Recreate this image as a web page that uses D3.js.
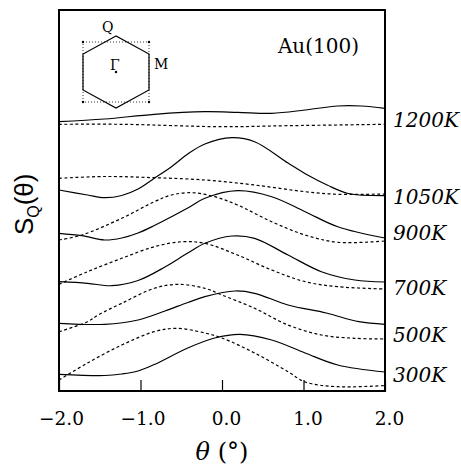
<!DOCTYPE html>
<html>
<head>
<meta charset="utf-8">
<script src="https://cdn.jsdelivr.net/npm/d3@7"></script>
<style>
  body { margin: 0; background: #fff; }
  svg { display: block; }
  .frame { fill: none; stroke: #000; stroke-width: 2; }
  .solid { fill: none; stroke: #000; stroke-width: 1.2; }
  .dashed { fill: none; stroke: #000; stroke-width: 1.2; stroke-dasharray: 3 2.5; }
  .tick-label { font-family: 'DejaVu Serif', serif; font-size: 18.5px; }
  .temp-label { font-family: 'DejaVu Serif', serif; font-style: italic; font-size: 20px; }
  .inset-label { font-family: 'DejaVu Serif', serif; font-size: 14px; }
</style>
</head>
<body>
<div id="chart"></div>
<script>
'use strict';

// temperatures, one pair of profiles each (theta in degrees, S_Q in arb. units)
var temps = [ '300K', '500K', '700K', '900K', '1050K', '1200K' ];

var solid300 = [ [-2, 1.67], [-1.44, 1.55], [-1.23, 1.7], [-1.03, 2.0], [-0.83, 2.65], [-0.42, 4.3], [-0.09, 5.3],
  [0.22, 5.67], [0.61, 5.1], [1.02, 3.8], [1.42, 2.6], [2, 1.9] ];
var dashed300 = [ [-2, 1.1], [-1.65, 2.8], [-1.23, 4.6], [-0.83, 5.93], [-0.56, 6.27], [-0.21, 5.8],
  [0, 5.3], [0.4, 3.8], [0.81, 1.93], [1.02, 0.9], [1.42, 0.43], [2, 0.55] ];

var solid500 = [ [-2, 6.77], [-1.44, 6.67], [-1.03, 7.1], [-0.7, 8.0], [-0.42, 8.85], [-0.21, 9.43],
  [0.16, 10.0], [0.4, 9.77], [0.81, 8.6], [1.28, 7.8], [1.68, 6.93], [2, 6.67] ];
var dashed500 = [ [-2, 5.93], [-1.65, 6.93], [-1.52, 7.6], [-1.23, 8.77], [-0.83, 10.27], [-0.54, 10.67],
  [-0.21, 10.27], [0, 9.6], [0.4, 8.27], [0.81, 6.6], [1.22, 5.6], [1.63, 5.27], [2, 5.2] ];

var solid700 = [ [-2, 10.93], [-1.65, 10.77], [-1.35, 10.53], [-1.03, 11.05], [-0.7, 12.4], [-0.42, 13.8],
  [-0.21, 14.77], [0.12, 15.5], [0.4, 15.27], [0.81, 13.6], [1.22, 11.93], [1.63, 11.1], [2, 10.9] ];
var dashed700 = [ [-2, 10.67], [-1.65, 11.93], [-1.23, 13.27], [-0.83, 14.43], [-0.49, 14.93], [-0.21, 14.77],
  [0.19, 13.6], [0.61, 12.1], [1.02, 10.93], [1.42, 10.43], [2, 10.2] ];

var solid900 = [ [-2, 15.77], [-1.72, 15.53], [-1.44, 15.1], [-1.23, 15.3], [-1.03, 15.8], [-0.83, 16.55], [-0.42, 18.3],
  [-0.21, 19.27], [0.19, 20.03], [0.61, 19.43], [1.02, 17.93], [1.42, 16.43], [2, 15.3] ];
var dashed900 = [ [-2, 15.1], [-1.72, 15.6], [-1.23, 17.27], [-0.83, 18.93], [-0.62, 19.6], [-0.37, 19.83],
  [-0.09, 19.43], [0.19, 18.6], [0.61, 16.93], [1.02, 15.6], [1.42, 14.87], [2, 15.0] ];

var solid1050 = [ [-2, 20.1], [-1.65, 19.6], [-1.44, 19.33], [-1.23, 19.55], [-1.03, 20.2], [-0.83, 21.27],
  [-0.62, 22.43], [-0.42, 23.7], [-0.21, 24.7], [0.12, 25.33], [0.4, 24.93], [0.81, 22.8], [1.05, 21.6],
  [1.29, 20.6], [1.55, 19.75], [2, 19.53] ];
var dashed1050 = [ [-2, 21.27], [-1.44, 21.45], [-0.83, 21.33], [-0.21, 21.1], [0.4, 20.6], [1.02, 19.93],
  [1.42, 19.67], [2, 19.7] ];

var solid1200 = [ [-2, 26.93], [-1.44, 27.2], [-0.83, 27.67], [-0.21, 27.93], [0.19, 27.87], [0.61, 27.77],
  [1.02, 28.1], [1.42, 28.5], [1.71, 28.5], [2, 28.27] ];
var dashed1200 = [ [-2, 26.67], [-1.23, 26.67], [0, 26.43], [0.81, 26.53], [2, 26.67] ];

// level (S units) at which each temperature label sits
var labelLevels = [ 0.9, 4.9, 9.6, 15.1, 18.7, 26.4 ];

var xTicks = [ -2, -1, 0, 1, 2 ];
var xTickLabels = [ '\u22122.0', '\u22121.0', '0.0', '1.0', '2.0' ];

var solids = [ solid300, solid500, solid700, solid900, solid1050, solid1200 ];
var dashes = [ dashed300, dashed500, dashed700, dashed900, dashed1050, dashed1200 ];

var baseWidth = 461,
    baseHeight = 467,
    margin = { top: 10, right: 76, bottom: 76, left: 59 };

var width = baseWidth - margin.left - margin.right,
    height = baseHeight - margin.top - margin.bottom;

var x = d3.scaleLinear()
    .domain( [ -2, 2 ] )
    .range( [ 0, width ] );

var y = d3.scaleLinear()
    .domain( [ 0, 38.1 ] )
    .range( [ height, 0 ] );

var svg = d3.select( '#chart' )
  .append( 'svg' )
    .attr( 'width', baseWidth )
    .attr( 'height', baseHeight )
  .append( 'g' )
    .attr( 'transform', 'translate(' + margin.left + ',' + margin.top + ')' );

var line = d3.line()
    .x( function( d ) { return x( d[0] ); } )
    .y( function( d ) { return y( d[1] ); } )
    .curve( d3.curveCatmullRom.alpha( 0.5 ) );

// profiles
for ( var i = 0; i < temps.length; i++ ) {
  svg.append( 'path' )
    .attr( 'class', 'dashed' )
    .attr( 'd', line( dashes[i] ) );
  svg.append( 'path' )
    .attr( 'class', 'solid' )
    .attr( 'd', line( solids[i] ) );

  svg.append( 'text' )
    .attr( 'class', 'temp-label' )
    .attr( 'x', width + 8 )
    .attr( 'y', y( labelLevels[i] ) )
    .text( temps[i] );
}

// x axis: inward ticks, labels below
var xAxis = svg.append( 'g' )
    .attr( 'transform', 'translate(0,' + height + ')' )
    .call( d3.axisBottom( x )
      .tickValues( xTicks )
      .tickSizeInner( -11 )
      .tickSizeOuter( 0 )
      .tickFormat( function( d, i ) { return xTickLabels[i]; } ) );

xAxis.select( '.domain' ).remove();
xAxis.selectAll( 'line' )
    .attr( 'stroke', '#000' )
    .attr( 'stroke-width', 1.2 );
xAxis.selectAll( 'text' )
    .attr( 'class', 'tick-label' )
    .attr( 'fill', '#000' )
    .attr( 'y', 34 )
    .attr( 'dx', function( d ) { return d < 0 ? 2 : 4; } )
    .attr( 'dy', 0 );

// frame
svg.append( 'rect' )
    .attr( 'class', 'frame' )
    .attr( 'width', width )
    .attr( 'height', height );

// axis titles
var xTitle = svg.append( 'text' )
    .attr( 'x', width / 2 )
    .attr( 'y', height + 69 )
    .attr( 'text-anchor', 'middle' )
    .style( 'font-family', "'DejaVu Serif', serif" )
    .style( 'font-size', '24px' );
xTitle.append( 'tspan' ).style( 'font-style', 'italic' ).text( '\u03b8' );
xTitle.append( 'tspan' ).text( ' (\u00b0)' );

var yTitle = svg.append( 'text' )
    .attr( 'transform', 'translate(' + ( -26 ) + ',' + ( height * 0.51 ) + ') rotate(-90)' )
    .attr( 'text-anchor', 'middle' )
    .style( 'font-family', "'Liberation Sans', sans-serif" )
    .style( 'font-size', '26px' );
yTitle.append( 'tspan' ).text( 'S' );
yTitle.append( 'tspan' ).attr( 'dy', 6 ).style( 'font-size', '16px' ).text( 'Q' );
yTitle.append( 'tspan' ).attr( 'dy', -6 ).text( '(\u03b8)' );

// sample label
svg.append( 'text' )
    .attr( 'x', width - 26 )
    .attr( 'y', 43 )
    .attr( 'text-anchor', 'end' )
    .style( 'font-family', "'DejaVu Serif', serif" )
    .style( 'font-size', '20px' )
    .text( 'Au(100)' );

// inset: surface Brillouin zone sketch
var inset = svg.append( 'g' )
    .attr( 'transform', 'translate(57,62)' );
var r = 36, hw = 33;
var hex = d3.range( 6 ).map( function( k ) {
  var a = Math.PI / 2 + k * Math.PI / 3;
  return [ hw * Math.cos( a ) / Math.cos( Math.PI / 6 ), -r * Math.sin( a ) ];
} );
inset.append( 'rect' )
    .attr( 'x', -hw ).attr( 'y', -30 )
    .attr( 'width', 2 * hw ).attr( 'height', 60 )
    .attr( 'fill', 'none' )
    .attr( 'stroke', '#000' )
    .attr( 'stroke-width', 0.8 )
    .attr( 'stroke-dasharray', '1 2' );
inset.selectAll( 'circle.corner' )
    .data( [ [-hw, -30], [hw, -30], [-hw, 30], [hw, 30], [0, 0] ] )
  .enter().append( 'circle' )
    .attr( 'cx', function( d ) { return d[0]; } )
    .attr( 'cy', function( d ) { return d[1]; } )
    .attr( 'r', 1.2 );
inset.append( 'path' )
    .attr( 'd', d3.line()( hex ) + 'Z' )
    .attr( 'fill', 'none' )
    .attr( 'stroke', '#000' )
    .attr( 'stroke-width', 1.2 );
inset.append( 'text' ).attr( 'class', 'inset-label' ).attr( 'x', -14 ).attr( 'y', -40 ).text( 'Q' );
inset.append( 'text' ).attr( 'class', 'inset-label' ).attr( 'x', 38 ).attr( 'y', -3 ).text( 'M' );
inset.append( 'text' ).attr( 'class', 'inset-label' ).attr( 'x', -6 ).attr( 'y', -2 ).text( '\u0393' );
</script>
</body>
</html>
